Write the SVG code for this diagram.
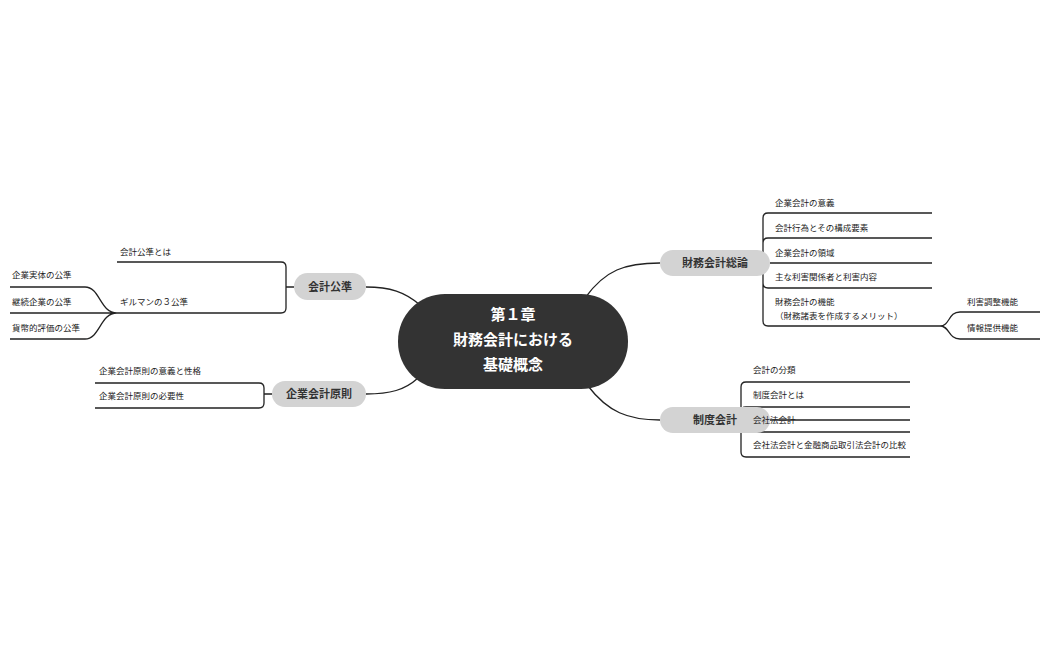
<svg xmlns="http://www.w3.org/2000/svg" width="1049" height="650" viewBox="0 0 1049 650">
<style>
text{font-family:"Noto Sans CJK JP","Noto Sans",sans-serif;fill:#222}
.s{font-size:8.5px}
.p{font-size:11px;font-weight:bold;text-anchor:middle;fill:#333}
.c{font-size:15px;font-weight:bold;text-anchor:middle;fill:#fff}
.l{fill:none;stroke:#222;stroke-width:1.3}
.pill{fill:#d3d3d3}
</style>
<rect width="1049" height="650" fill="#fff"/>
<g id="connectors">
<path class="l" d="M585,298 C605,270 625,263 660,263"/>
<path class="l" d="M588,386 C608,412 628,420 660,420"/>
<path class="l" d="M366,287 C390,287 405,292 420,305"/>
<path class="l" d="M366,394 C390,394 405,390 418,378"/>
<path class="l" d="M770,263 H932 M932,213 H768 Q763,213 763,218 V321 Q763,326 768,326 H940 M932,238 H768 Q763,238 763,243 M932,288 H768 Q763,288 763,283"/>
<path class="l" d="M940,326 C950,326 948,312 960,312 H1040 M940,326 C950,326 948,339 960,339 H1040"/>
<path class="l" d="M770,420 H910 M910,382 H746 Q741,382 741,387 V452 Q741,457 746,457 H910 M910,407 H746 Q741,407 741,412 M910,432 H746 Q741,432 741,427"/>
<path class="l" d="M294,287 H286 M117,262 H281 Q286,262 286,267 V308 Q286,313 281,313 H117"/>
<path class="l" d="M117,313 C100,313 100,287 85,287 H10 M10,313 H117 M117,313 C100,313 100,339 85,339 H10"/>
<path class="l" d="M272,394 H264 M95,383 H259 Q264,383 264,388 V403 Q264,408 259,408 H95"/>
</g>
<g id="center"><rect x="398" y="294" width="230" height="95" rx="47" fill="#333"/>
<text class="c" x="513" y="320">第１章</text><text class="c" x="513" y="345">財務会計における</text><text class="c" x="513" y="370">基礎概念</text></g>
<g id="n1"><rect class="pill" x="660" y="250" width="110" height="26" rx="13"/><text class="p" x="715" y="267">財務会計総論</text></g>
<g id="n2"><rect class="pill" x="660" y="407" width="110" height="26" rx="13"/><text class="p" x="715" y="424">制度会計</text></g>
<g id="n3"><rect class="pill" x="294" y="273" width="72" height="27" rx="13.5"/><text class="p" x="330" y="291">会計公準</text></g>
<g id="n4"><rect class="pill" x="272" y="381" width="94" height="26" rx="13"/><text class="p" x="319" y="398">企業会計原則</text></g>
<g id="leaves">
<text class="s" x="775" y="206">企業会計の意義</text>
<text class="s" x="775" y="231">会計行為とその構成要素</text>
<text class="s" x="775" y="256">企業会計の領域</text>
<text class="s" x="775" y="280">主な利害関係者と利害内容</text>
<text class="s" x="775" y="305">財務会計の機能</text>
<text class="s" x="775" y="319">（財務諸表を作成するメリット）</text>
<text class="s" x="967" y="305">利害調整機能</text>
<text class="s" x="967" y="331">情報提供機能</text>
<text class="s" x="753" y="373">会計の分類</text>
<text class="s" x="753" y="398">制度会計とは</text>
<text class="s" x="753" y="423">会社法会計</text>
<text class="s" x="753" y="448">会社法会計と金融商品取引法会計の比較</text>
<text class="s" x="120" y="255">会計公準とは</text>
<text class="s" x="120" y="305">ギルマンの３公準</text>
<text class="s" x="12" y="278">企業実体の公準</text>
<text class="s" x="12" y="305">継続企業の公準</text>
<text class="s" x="12" y="331">貨幣的評価の公準</text>
<text class="s" x="99" y="374">企業会計原則の意義と性格</text>
<text class="s" x="99" y="399">企業会計原則の必要性</text>
</g>
</svg>
